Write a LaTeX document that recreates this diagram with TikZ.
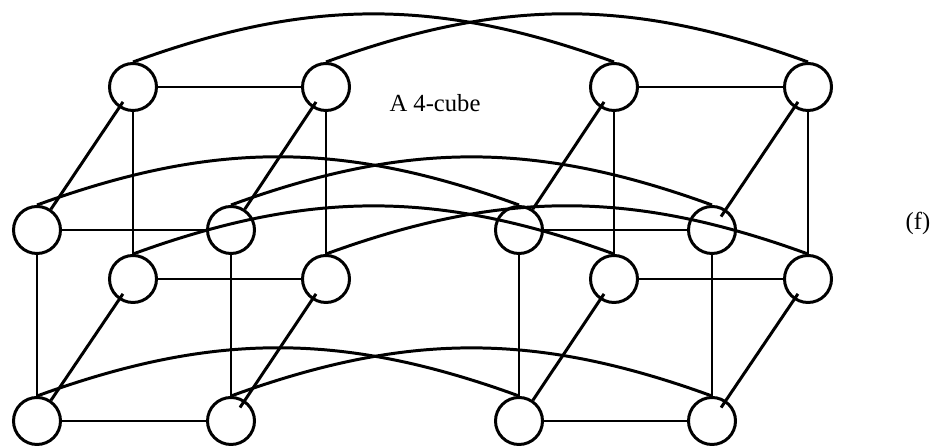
\documentclass[tikz,border=0pt]{standalone}
\usepackage{fontspec}
\setmainfont{Liberation Serif}
\usepackage{tikz}

\begin{document}
\begin{tikzpicture}[line width=1.7pt, font=\fontsize{14}{16}\selectfont,
  vtx/.style={circle, draw, minimum size=0.94cm, inner sep=0pt},
  back/.style={shorten >=-4pt}]
  \useasboundingbox (0,0) rectangle (18.72,8.92);
  % left cube: a<x><y><z>, z=1 is the back face
  \node[vtx] (a000) at (0.74,0.5) {};
  \node[vtx] (a100) at (4.62,0.5) {};
  \node[vtx] (a010) at (0.74,4.32) {};
  \node[vtx] (a110) at (4.62,4.32) {};
  \node[vtx] (a001) at (2.66,3.34) {};
  \node[vtx] (a101) at (6.52,3.34) {};
  \node[vtx] (a011) at (2.66,7.18) {};
  \node[vtx] (a111) at (6.52,7.18) {};
  % right cube
  \node[vtx] (b000) at (10.38,0.5) {};
  \node[vtx] (b100) at (14.24,0.5) {};
  \node[vtx] (b010) at (10.38,4.32) {};
  \node[vtx] (b110) at (14.24,4.32) {};
  \node[vtx] (b001) at (12.28,3.34) {};
  \node[vtx] (b101) at (16.16,3.34) {};
  \node[vtx] (b011) at (12.28,7.18) {};
  \node[vtx] (b111) at (16.16,7.18) {};
  % faces
  \draw (a010) -- (a110) -- (a100) -- (a000) -- (a010);
  \draw (a011) -- (a111) -- (a101) -- (a001) -- (a011);
  \draw (b010) -- (b110) -- (b100) -- (b000) -- (b010);
  \draw (b011) -- (b111) -- (b101) -- (b001) -- (b011);
  % front to back
  \draw[back] (a000) -- (a001);
  \draw[back, shorten <=-5pt] (a100) -- (a101);
  \draw[back] (a010) -- (a011);
  \draw[back] (a110) -- (a111);
  \draw[back] (b000) -- (b001);
  \draw[back, shorten <=-5pt] (b100) -- (b101);
  \draw[back] (b010) -- (b011);
  \draw[back, shorten <=-5pt] (b110) -- (b111);
  % the fourth dimension
  \draw (a011.north) to[bend left=20] (b011.north);
  \draw (a111.north) to[bend left=20] (b111.north);
  \draw (a010.north) to[bend left=20] (b010.north);
  \draw (a110.north) to[bend left=20] (b110.north);
  \draw (a001.north) to[bend left=20] (b001.north);
  \draw (a101.north) to[bend left=20] (b101.north);
  \draw (a000.north) to[bend left=20] (b000.north);
  \draw (a100.north) to[bend left=20] (b100.north);
  \node (title) at (8.7,6.86) {A 4-cube};
  \node (tag) at (18.36,4.46) {(f)};
\end{tikzpicture}
\end{document}
